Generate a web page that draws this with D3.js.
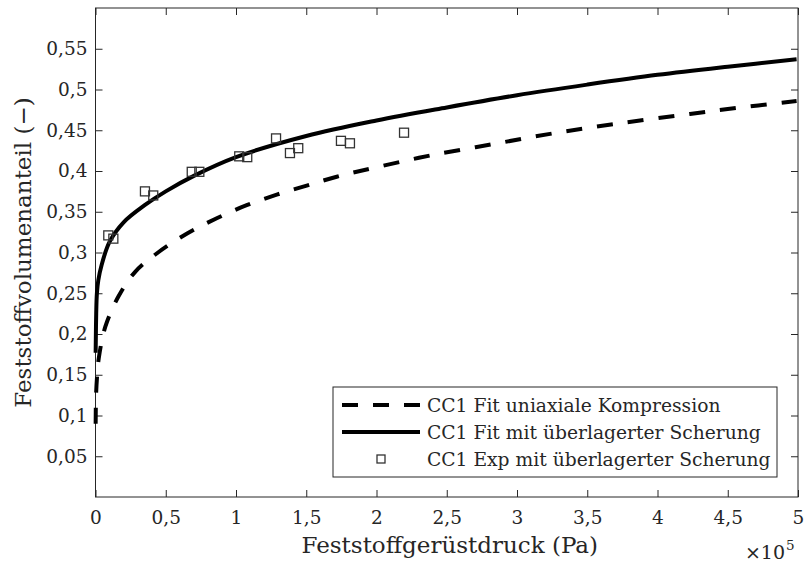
<!DOCTYPE html>
<html lang="de">
  <head>
    <meta charset="UTF-8" />
    <title>Feststoffvolumenanteil</title>
    <script src="https://d3js.org/d3.v7.min.js"></script>
    <style>
      body { margin: 0; background: #fff; }
      text { font-family: "DejaVu Serif", serif; fill: #262626; }
    </style>
  </head>

  <body>
    <svg id="chart" width="805" height="566"></svg>
    <script>
      // pressure in Pa, volume fraction in (-)
      const fitUniX = [100, 400, 1200, 2300, 7000, 16300, 28100, 44500, 64900, 86300, 107600, 129000, 150300, 171700, 198500, 238100, 282900, 328500, 375000, 423100, 450000, 499000];
      const fitUniY = [0.09, 0.125, 0.15, 0.17, 0.209, 0.246, 0.276, 0.3, 0.323, 0.342, 0.358, 0.371, 0.382, 0.393, 0.404, 0.419, 0.433, 0.447, 0.459, 0.47, 0.476, 0.486];

      const fitShearX = [100, 200, 500, 1000, 2000, 4400, 10000, 20000, 35000, 50000, 70000, 100000, 150000, 200000, 250000, 300000, 350000, 400000, 450000, 499000];
      const fitShearY = [0.177, 0.19, 0.225, 0.25, 0.266, 0.285, 0.313, 0.337, 0.358, 0.375, 0.394, 0.417, 0.443, 0.462, 0.478, 0.493, 0.506, 0.518, 0.528, 0.537];

      const expX = [9100, 12700, 35200, 41100, 68500, 73900, 102300, 108000, 128500, 138400, 144300, 174700, 181100, 219600];
      const expY = [0.321, 0.317, 0.375, 0.37, 0.399, 0.399, 0.418, 0.417, 0.44, 0.422, 0.428, 0.437, 0.434, 0.447];

      const xTicks = [0, 50000, 100000, 150000, 200000, 250000, 300000, 350000, 400000, 450000, 500000];
      const yTicks = [0.05, 0.1, 0.15, 0.2, 0.25, 0.3, 0.35, 0.4, 0.45, 0.5, 0.55];
      const legendLabels = [
        "CC1 Fit uniaxiale Kompression",
        "CC1 Fit mit überlagerter Scherung",
        "CC1 Exp mit überlagerter Scherung",
      ];

      const svg = d3.select("#chart");
      const margin = { top: 8, right: 7, bottom: 69, left: 95.5 };
      const width = 805 - margin.left - margin.right;
      const height = 566 - margin.top - margin.bottom;
      const axisColor = "#262626";
      const tickLen = 7;

      const g = svg
        .append("g")
        .attr("transform", "translate(" + margin.left + "," + margin.top + ")");

      const x = d3.scaleLinear().domain([0, 500000]).range([0, width]);
      const y = d3.scaleLinear().domain([0, 0.6]).range([height, 0]);

      const fmt = (v) => String(+v.toFixed(2)).replace(".", ",");

      // axes with inward ticks, box on all four sides
      g.append("g")
        .attr("transform", "translate(0," + height + ")")
        .call(
          d3.axisBottom(x).tickValues(xTicks).tickSize(-tickLen).tickPadding(14)
            .tickFormat((d) => fmt(d / 1e5))
        );
      g.append("g")
        .call(
          d3.axisLeft(y).tickValues(yTicks).tickSize(-tickLen).tickPadding(8)
            .tickFormat(fmt)
        );
      g.append("g")
        .call(d3.axisTop(x).tickValues(xTicks).tickSize(-tickLen).tickFormat(""));
      g.append("g")
        .attr("transform", "translate(" + width + ",0)")
        .call(d3.axisRight(y).tickValues(yTicks).tickSize(-tickLen).tickFormat(""));

      g.selectAll(".domain").remove();
      g.selectAll(".tick line").attr("stroke", axisColor).attr("stroke-width", 1);
      g.selectAll(".tick text")
        .attr("font-family", "DejaVu Serif")
        .attr("font-size", 18.5)
        .attr("fill", axisColor);

      g.append("rect")
        .attr("width", width)
        .attr("height", height)
        .attr("fill", "none")
        .attr("stroke", axisColor)
        .attr("stroke-width", 1);

      const line = d3
        .line()
        .x((d) => x(d[0]))
        .y((d) => y(d[1]))
        .curve(d3.curveCatmullRom.alpha(0.5));

      const uni = fitUniX.map((v, i) => [v, fitUniY[i]]);
      const shear = fitShearX.map((v, i) => [v, fitShearY[i]]);
      const exp = expX.map((v, i) => [v, expY[i]]);

      g.append("path")
        .datum(uni)
        .attr("d", line)
        .attr("fill", "none")
        .attr("stroke", "#000")
        .attr("stroke-width", 4)
        .attr("stroke-dasharray", "16,15");

      g.append("path")
        .datum(shear)
        .attr("d", line)
        .attr("fill", "none")
        .attr("stroke", "#000")
        .attr("stroke-width", 4);

      const sq = 9;
      g.selectAll("rect.exp")
        .data(exp)
        .join("rect")
        .attr("class", "exp")
        .attr("x", (d) => x(d[0]) - sq / 2)
        .attr("y", (d) => y(d[1]) - sq / 2)
        .attr("width", sq)
        .attr("height", sq)
        .attr("fill", "none")
        .attr("stroke", "#333")
        .attr("stroke-width", 1.3);

      // axis titles
      svg.append("text")
        .attr("x", margin.left + width / 2 + 3)
        .attr("y", 553)
        .attr("text-anchor", "middle")
        .attr("font-size", 23)
        .text("Feststoffgerüstdruck (Pa)");

      svg.append("text")
        .attr("transform", "translate(31," + (margin.top + height / 2) + ") rotate(-90)")
        .attr("text-anchor", "middle")
        .attr("font-size", 23)
        .text("Feststoffvolumenanteil (−)");

      svg.append("text")
        .attr("x", 785)
        .attr("y", 559)
        .attr("text-anchor", "end")
        .attr("font-size", 19)
        .text("×10");
      svg.append("text")
        .attr("x", 786)
        .attr("y", 550)
        .attr("font-size", 13.5)
        .text("5");

      // legend
      const legend = svg.append("g");
      legend.append("rect")
        .attr("x", 333)
        .attr("y", 387)
        .attr("width", 444)
        .attr("height", 90)
        .attr("fill", "#fff")
        .attr("stroke", axisColor)
        .attr("stroke-width", 1);

      const rowY = [405, 432, 459];
      legend.append("line")
        .attr("x1", 342).attr("x2", 420)
        .attr("y1", rowY[0]).attr("y2", rowY[0])
        .attr("stroke", "#000").attr("stroke-width", 4)
        .attr("stroke-dasharray", "16,15");
      legend.append("line")
        .attr("x1", 342).attr("x2", 420)
        .attr("y1", rowY[1]).attr("y2", rowY[1])
        .attr("stroke", "#000").attr("stroke-width", 4);
      legend.append("rect")
        .attr("x", 381 - 4).attr("y", rowY[2] - 4)
        .attr("width", 8).attr("height", 8)
        .attr("fill", "none").attr("stroke", "#333").attr("stroke-width", 1.3);

      legend.selectAll("text.lab")
        .data(legendLabels)
        .join("text")
        .attr("class", "lab")
        .attr("x", 427)
        .attr("y", (d, i) => rowY[i])
        .attr("dy", "0.35em")
        .attr("font-size", 18.7)
        .text((d) => d);
    </script>
  </body>
</html>
